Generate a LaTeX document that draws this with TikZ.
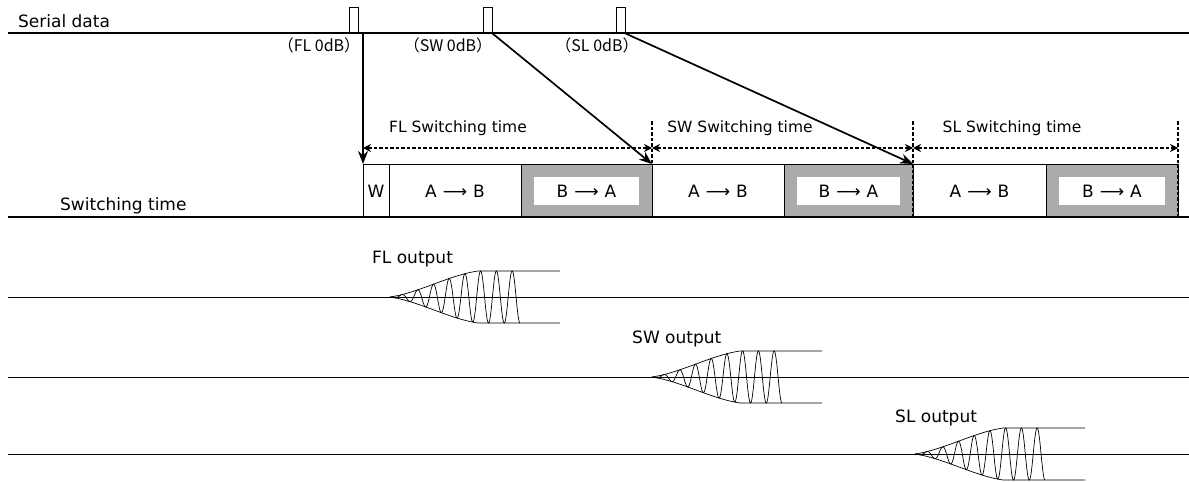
\documentclass[tikz,border=0pt]{standalone}
\usepackage{fontspec}
\setmainfont{DejaVu Sans}
\newfontfamily\cjk{Noto Sans CJK JP}
\usetikzlibrary{arrows.meta}
\newcommand\myarr{\hspace{6pt}⟶\hspace{6pt}}
\begin{document}
\begin{tikzpicture}[x=1pt,y=-1pt,
  declare function={envt(\t)=min(\t/88,1); amp(\t)=0.5*envt(\t)+0.5*envt(\t)*envt(\t)*(3-2*envt(\t));},
  bigtxt/.style={inner sep=0pt, font=\fontsize{17}{20}\selectfont},
  midtxt/.style={inner sep=0pt, font=\fontsize{15.5}{18}\selectfont},
  dbtxt/.style={inner sep=0pt, font=\cjk\fontsize{16}{18}\selectfont},
  heavy/.style={line width=1.8pt},
  sig/.style={line width=1.7pt, -{Stealth[length=13pt,width=10pt]}},
  span/.style={line width=1.1pt, dash pattern=on 3.5pt off 2pt, {Stealth[length=8pt,width=8pt]}-{Stealth[length=8pt,width=8pt]}},
  guide/.style={line width=1.1pt, dash pattern=on 3.5pt off 2pt},
  pulse/.style={draw, line width=0.8pt, minimum width=9pt, minimum height=26pt, inner sep=0pt},
  cell/.style={draw, line width=0.8pt},
  shade/.style={draw, line width=0.8pt, fill=black!33},
  wave/.style={line width=0.7pt},
  base/.style={line width=0.8pt}
]
\useasboundingbox (0,0) rectangle (1189,482);

% ---------- serial data ----------
\node[bigtxt, anchor=base west] (serlbl) at (18,27) {Serial data};
\coordinate (serL) at (8,33);
\coordinate (serR) at (1189,33);
\draw[heavy] (serL) -- (serR);
\node[pulse] (pFL) at (353.5,20) {};
\node[pulse] (pSW) at (487.5,20) {};
\node[pulse] (pSL) at (620.5,20) {};
\node[dbtxt, anchor=base] (dbFL) at (319,51) {（FL 0dB）};
\node[dbtxt, anchor=base] (dbSW) at (448,51) {（SW 0dB）};
\node[dbtxt, anchor=base] (dbSL) at (597,51) {（SL 0dB）};

% ---------- switching cells ----------
\coordinate (c0) at (363,164);
\coordinate (c3) at (652,164);
\coordinate (c5) at (913,164);
\coordinate (c7) at (1178,164);

\draw[shade] (521,164) rectangle (652,217);
\draw[shade] (784,164) rectangle (913,217);
\draw[shade] (1046,164) rectangle (1178,217);
\fill[white] (534,177) rectangle (639,205);
\fill[white] (797,177) rectangle (900,205);
\fill[white] (1059,177) rectangle (1165,205);

\draw[cell] (363,164) rectangle (389,217);
\draw[cell] (389,164) rectangle (521,217);
\draw[cell] (652,164) rectangle (784,217);
\draw[cell] (913,164) rectangle (1046,217);

\node[bigtxt, anchor=base] (tW) at (376,197) {W};
\node[bigtxt, anchor=base] (t1) at (455,197) {A\myarr B};
\node[bigtxt, anchor=base] (t2) at (586.5,197) {B\myarr A};
\node[bigtxt, anchor=base] (t3) at (718,197) {A\myarr B};
\node[bigtxt, anchor=base] (t4) at (848.5,197) {B\myarr A};
\node[bigtxt, anchor=base] (t5) at (979.5,197) {A\myarr B};
\node[bigtxt, anchor=base] (t6) at (1112,197) {B\myarr A};

\coordinate (swL) at (8,217);
\coordinate (swR) at (1189,217);
\draw[heavy] (swL) -- (swR);
\node[bigtxt, anchor=base west] (swlbl) at (60,210) {Switching time};

% ---------- spans ----------
\coordinate (g3) at (652,121);
\coordinate (g5) at (913,121);
\coordinate (g7) at (1178,121);
\draw[guide] (g3) -- (c3);
\draw[guide] (g5) -- (c5);
\draw[guide] (g7) -- (c7);
\draw[guide] (c5) -- (913,217);
\draw[guide] (c7) -- (1178,217);
\coordinate (s0) at (363,148);
\coordinate (s3) at (652,148);
\coordinate (s5) at (913,148);
\coordinate (s7) at (1178,148);
\draw[span] (s0) -- (s3);
\draw[span] (s3) -- (s5);
\draw[span] (s5) -- (s7);
\node[midtxt, anchor=base] (spFL) at (458,132) {FL Switching time};
\node[midtxt, anchor=base] (spSW) at (740,132) {SW Switching time};
\node[midtxt, anchor=base] (spSL) at (1012,132) {SL Switching time};

% ---------- signal arrows ----------
\coordinate (aFL) at (363,33);
\draw[sig] (aFL) -- (c0);
\draw[sig] (pSW.south east) -- (c3);
\draw[sig] (pSL.south east) -- (c5);

% ---------- outputs ----------
\foreach \bx/\by/\nm/\lx/\ly [count=\i] in {390/297/FL/372/263, 652/377/SW/632/343, 915/454/SL/895/422}{
  \draw[base] (8,\by) -- (1189,\by);
  \node[bigtxt, anchor=base west] (out\i) at (\lx,\ly) {\nm{} output};
  \begin{scope}[shift={(\bx,\by)}]
    \draw[wave] plot[domain=0:88, samples=60, smooth] (\x, {-26*amp(\x)}) -- (170,-26);
    \draw[wave] plot[domain=0:88, samples=60, smooth] (\x, {26*amp(\x)}) -- (170,26);
    \draw[wave] plot[domain=0:130, samples=500] (\x, {26*amp(\x)*sin(\x*22.8426)});
  \end{scope}
}
\end{tikzpicture}
\end{document}
